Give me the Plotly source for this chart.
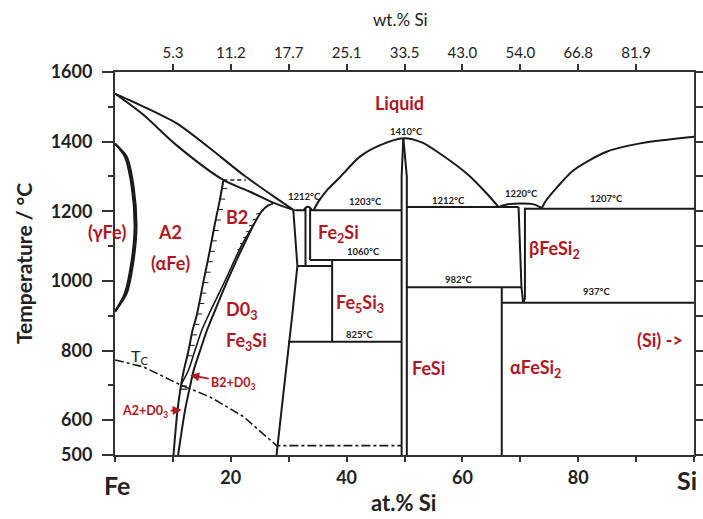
import numpy as np
import plotly.graph_objects as go

# ---------------- axis data ----------------
at_ticks = [0, 10, 20, 30, 40, 50, 60, 70, 80, 90, 100]
at_labels = ["", "", "20", "", "40", "", "60", "", "80", "", ""]
wt_ticks = [10, 20, 30, 40, 50, 60, 70, 80, 90]
wt_labels = ["5.3", "11.2", "17.7", "25.1", "33.5", "43.0", "54.0", "66.8", "81.9"]
T_major = [500, 600, 800, 1000, 1200, 1400, 1600]
T_minor = [700, 900, 1100, 1300, 1500]
T_all = list(range(500, 1700, 100))

# ---------------- phase boundaries (at.% Si, °C) ----------------
liq_fe_x = [0, 5, 10.6, 16.4, 22.2, 27.9, 30.8]
liq_fe_T = [1538, 1500, 1453, 1381, 1304, 1237, 1204]
sol_fe_x = [0, 4.9, 10.6, 18.7, 23.3, 27.3, 30.8]
sol_fe_T = [1538, 1477, 1390, 1290, 1256, 1225, 1204]
b2_dash_x = [18.7, 22.6]
b2_dash_T = [1290, 1290]

gam_in_x = [0, 1.7, 2.9, 3.4, 2.9, 1.7, 0]
gam_in_T = [1394, 1357, 1270, 1156, 1060, 964, 912]
gam_out_x = [0, 2.0, 3.2, 3.7, 3.2, 2.0, 0]
gam_out_T = [1394, 1357, 1270, 1156, 1060, 964, 912]

a2_x = [18.7, 18.1, 17.2, 16.4, 15.3, 14.1, 13.4, 12.7, 11.9, 11.4, 10.8, 10.1]
a2_T = [1287, 1232, 1160, 1089, 1000, 900, 859, 800, 744, 700, 629, 500]
d03_x = [27.3, 26.4, 25.3, 23.9, 22.5, 21.4, 19.4, 16.9, 15.9, 14.7, 13.6, 13.0, 12.1, 10.9]
d03_T = [1222, 1216, 1199, 1160, 1112, 1074, 1000, 900, 859, 800, 744, 700, 629, 500]
b2d_x = [23.9, 21.8, 19.0, 16.1, 15.0, 13.8, 12.7, 11.5]
b2d_T = [1160, 1100, 1000, 900, 859, 800, 744, 705]
hatch_a2_T = [1265, 1235, 1205, 1175, 1145, 1115, 1085, 1055, 1025, 995, 965, 935, 905, 875, 845, 815, 785]
hatch_d03_T = [1195, 1178, 1161, 1144, 1127, 1110, 1093]

d03r_x = [30.8, 31.5, 30.6, 29.7, 28.9, 27.9]
d03r_T = [1203, 1043, 900, 773, 650, 500]
eut1200_x = [30.8, 32.9]
eut1200_T = [1203, 1203]
fe2si_l_x = [32.9, 32.9]
fe2si_l_T = [1208, 1043]
fe2si_r_x = [33.7, 33.7]
fe2si_r_T = [1208, 1060]
arch1212_x = [32.6, 33.0, 33.3, 33.6, 34.0]
arch1212_T = [1204, 1211, 1213, 1211, 1204]
iso1043_x = [31.5, 37.5]
iso1043_T = [1043, 1043]
iso1060_x = [33.7, 49.5]
iso1060_T = [1060, 1060]
fe5si3_x = [37.5, 37.5]
fe5si3_T = [1060, 825]
iso825_x = [29.9, 49.5]
iso825_T = [825, 825]
iso1203_x = [33.7, 49.5]
iso1203_T = [1203, 1203]

fesi_l_x = [49.8, 49.5, 49.5]
fesi_l_T = [1410, 1300, 500]
fesi_r_x = [49.8, 50.4, 50.4]
fesi_r_T = [1410, 1300, 500]
dome_x = [34.3, 35.1, 36.7, 38.8, 42.3, 45.8, 49.8, 53.0, 56.1, 60.7, 64.2, 66.2]
dome_T = [1203, 1227, 1262, 1297, 1357, 1390, 1410, 1398, 1366, 1309, 1251, 1213]
iso1212_x = [50.4, 69.7]
iso1212_T = [1212, 1212]
lens1220_x = [66.2, 67.5, 70.2, 72.5, 73.7]
lens1220_T = [1212, 1219, 1222, 1219, 1209]
bfesi2_l_x = [69.7, 70.2, 70.5]
bfesi2_l_T = [1212, 982, 937]
bfesi2_r_x = [70.8, 70.8, 70.5]
bfesi2_r_T = [1210, 950, 937]
iso1207_x = [70.8, 100]
iso1207_T = [1207, 1207]
iso982_x = [50.4, 70.2]
iso982_T = [982, 982]
afesi2_x = [66.8, 66.8]
afesi2_T = [982, 500]
iso937_x = [66.8, 100]
iso937_T = [937, 937]
liq_si_x = [73.7, 74.5, 76.3, 79.2, 84.9, 90.7, 100]
liq_si_T = [1209, 1232, 1268, 1318, 1371, 1395, 1414]

tc_x = [0, 4.9, 11.5, 16.4, 22.2, 27.9, 49.5]
tc_T = [773, 753, 700, 667, 610, 527, 527]
tcmark1_x = [11.3, 12.4]
tcmark1_T = [698, 698]
tcmark2_x = [11.4, 12.5]
tcmark2_T = [689, 689]

# ---------------- labels ----------------
red_labels = [
    ("A2", 9.5, 1140, 18), ("(αFe)", 9.5, 1051, 18),
    ("B2", 21.0, 1184, 18), ("Fe<sub>2</sub>Si", 38.6, 1136, 18),
    ("Fe<sub>5</sub>Si<sub>3</sub>", 42.3, 935, 18), ("Liquid", 49.1, 1510, 18),
    ("βFeSi<sub>2</sub>", 75.9, 1089, 18), ("(Si) ->", 94.2, 830, 18),
    ("FeSi", 54.1, 749, 18), ("αFeSi<sub>2</sub>", 72.6, 749, 18),
    ("D0<sub>3</sub>", 21.8, 916, 18), ("Fe<sub>3</sub>Si", 22.7, 825, 18),
]
gamma_label = ("(γFe)", -1.3, 1140)
temp_labels = [
    ("1212°C", 32.8, 1242), ("1203°C", 43.2, 1227), ("1060°C", 42.9, 1084),
    ("825°C", 42.3, 847), ("1410°C", 50.4, 1428), ("1212°C", 57.6, 1232),
    ("1220°C", 70.2, 1251), ("1207°C", 84.9, 1237), ("982°C", 59.3, 1005),
    ("937°C", 83.2, 969),
]
arrow_labels = [
    ("B2+D0<sub>3</sub>", 20.5, 706, 13.0, 729),
    ("A2+D0<sub>3</sub>", 5.2, 624, 11.5, 629),
]

FONT = "Lato"
RED = "#b2161f"
LC = "#1a1a1a"
XMIN, XMAX, TMIN, TMAX = 0, 100, 500, 1600

fig = go.Figure()


def add_line(x, y, width=2.0, dash=None, shape="linear"):
    fig.add_trace(go.Scatter(x=x, y=y, mode="lines", hoverinfo="skip", showlegend=False,
                             line=dict(color=LC, width=width, dash=dash, shape=shape,
                                       smoothing=0.8)))


def xpaper(x):
    return (x - XMIN) / (XMAX - XMIN)


def ypaper(t):
    return (t - TMIN) / (TMAX - TMIN)


add_line(liq_fe_x, liq_fe_T, shape="spline")
add_line(sol_fe_x, sol_fe_T, shape="spline")
add_line(b2_dash_x, b2_dash_T, width=1.6, dash="4px,3px")
add_line(gam_in_x, gam_in_T, width=2.2, shape="spline")
add_line(gam_out_x, gam_out_T, width=2.2, shape="spline")
add_line(a2_x, a2_T, shape="spline")
add_line(d03_x, d03_T, shape="spline")
add_line(b2d_x, b2d_T, width=1.6, shape="spline")

# hatch marks (second-order transitions)
a2_rev_T = a2_T[::-1]
a2_rev_x = a2_x[::-1]
for t in hatch_a2_T:
    x0 = float(np.interp(t, a2_rev_T, a2_rev_x))
    add_line([x0, x0 + 0.9], [t, t], width=1.0)
d_rev_T = d03_T[::-1]
d_rev_x = d03_x[::-1]
for t in hatch_d03_T:
    x0 = float(np.interp(t, d_rev_T, d_rev_x))
    add_line([x0 - 0.8, x0], [t - 3, t], width=1.0)

add_line(d03r_x, d03r_T)
add_line(eut1200_x, eut1200_T)
add_line(fe2si_l_x, fe2si_l_T)
add_line(fe2si_r_x, fe2si_r_T)
add_line(arch1212_x, arch1212_T, shape="spline")
add_line(iso1043_x, iso1043_T)
add_line(iso1060_x, iso1060_T)
add_line(fe5si3_x, fe5si3_T)
add_line(iso825_x, iso825_T)
add_line(iso1203_x, iso1203_T)
add_line(fesi_l_x, fesi_l_T)
add_line(fesi_r_x, fesi_r_T)
add_line(dome_x, dome_T, shape="spline")
add_line(iso1212_x, iso1212_T)
add_line(lens1220_x, lens1220_T, shape="spline")
add_line(bfesi2_l_x, bfesi2_l_T)
add_line(bfesi2_r_x, bfesi2_r_T)
add_line(iso1207_x, iso1207_T)
add_line(iso982_x, iso982_T)
add_line(afesi2_x, afesi2_T)
add_line(iso937_x, iso937_T)
add_line(liq_si_x, liq_si_T, shape="spline")
add_line(tc_x, tc_T, width=1.6, dash="dashdot")
add_line(tcmark1_x, tcmark1_T, width=1.2)
add_line(tcmark2_x, tcmark2_T, width=1.2)

# dummy traces for top and right axes
fig.add_trace(go.Scatter(x=[50], y=[1000], xaxis="x2", yaxis="y", mode="none",
                         showlegend=False, hoverinfo="skip"))
fig.add_trace(go.Scatter(x=[50], y=[1000], xaxis="x", yaxis="y2", mode="none",
                         showlegend=False, hoverinfo="skip"))

ann = []
for txt, x, y, s in red_labels:
    ann.append(dict(x=x, y=y, xref="x", yref="y", text="<b>%s</b>" % txt, showarrow=False,
                    xanchor="center", yanchor="middle",
                    font=dict(family=FONT, size=s, color=RED)))
ann.append(dict(x=xpaper(gamma_label[1]), y=ypaper(gamma_label[2]), xref="paper", yref="paper",
                text="<b>%s</b>" % gamma_label[0], showarrow=False,
                xanchor="center", yanchor="middle",
                font=dict(family=FONT, size=18, color=RED)))
for txt, x, y in temp_labels:
    ann.append(dict(x=x, y=y, xref="x", yref="y", text="<b>%s</b>" % txt, showarrow=False,
                    xanchor="center", yanchor="middle",
                    font=dict(family=FONT, size=9.5, color="#222")))
for txt, ax, ay, x, y in arrow_labels:
    ann.append(dict(x=x, y=y, ax=ax, ay=ay, xref="x", yref="y", axref="x", ayref="y",
                    text="<b>%s</b>" % txt, showarrow=True, arrowhead=2, arrowsize=1,
                    arrowwidth=1.8, arrowcolor=RED, standoff=0, startstandoff=1,
                    font=dict(family=FONT, size=12.5, color=RED)))
ann.append(dict(x=4.3, y=782, xref="x", yref="y", text="T<sub>C</sub>", showarrow=False,
                xanchor="center", yanchor="middle",
                font=dict(family=FONT, size=16, color="#222")))
ann.append(dict(x=xpaper(0.3), y=-0.078, xref="paper", yref="paper", text="<b>Fe</b>",
                showarrow=False, xanchor="center", yanchor="middle",
                font=dict(family=FONT, size=25, color="#222")))
ann.append(dict(x=xpaper(98.8), y=-0.065, xref="paper", yref="paper", text="<b>Si</b>",
                showarrow=False, xanchor="center", yanchor="middle",
                font=dict(family=FONT, size=25, color="#222")))
ann.append(dict(x=xpaper(49.8), y=-0.123, xref="paper", yref="paper", text="<b>at.% Si</b>",
                showarrow=False, xanchor="center", yanchor="middle",
                font=dict(family=FONT, size=22, color="#222")))
ann.append(dict(x=xpaper(49.3), y=1.138, xref="paper", yref="paper", text="wt.% Si",
                showarrow=False, xanchor="center", yanchor="middle",
                font=dict(family=FONT, size=17, color="#222")))
ann.append(dict(x=-0.158, y=0.5, xref="paper", yref="paper", text="<b>Temperature / °C</b>",
                showarrow=False, textangle=-90, xanchor="center", yanchor="middle",
                font=dict(family=FONT, size=21, color="#222")))

fig.update_layout(
    width=703, height=519,
    margin=dict(l=115, r=9, t=72, b=64, autoexpand=False),
    paper_bgcolor="white", plot_bgcolor="white",
    font=dict(family=FONT, color="#222"),
    xaxis=dict(range=[XMIN, XMAX], tickmode="array", tickvals=at_ticks, ticktext=at_labels,
               ticks="outside", ticklen=5, tickwidth=2, tickcolor="#333",
               showline=True, linewidth=2, linecolor="#333", showgrid=False, zeroline=False,
               tickfont=dict(family=FONT, size=18, color="#222", weight="bold")),
    xaxis2=dict(range=[XMIN, XMAX], overlaying="x", side="top", anchor="y", tickmode="array",
                tickvals=wt_ticks, ticktext=wt_labels, ticks="outside", ticklen=6, tickwidth=2,
                tickcolor="#333", showline=True, linewidth=2, linecolor="#333",
                showgrid=False, zeroline=False,
                tickfont=dict(family=FONT, size=15, color="#222")),
    yaxis=dict(range=[TMIN, TMAX], tickmode="array", tickvals=T_major,
               ticktext=[str(t) for t in T_major], ticks="outside", ticklen=11, tickwidth=2,
               tickcolor="#333", showline=True, linewidth=2, linecolor="#333",
               showgrid=False, zeroline=False, ticklabelstandoff=6,
               minor=dict(tickvals=T_minor, ticks="outside", ticklen=5, tickwidth=2,
                          tickcolor="#333"),
               tickfont=dict(family=FONT, size=18, color="#222", weight="bold")),
    yaxis2=dict(range=[TMIN, TMAX], overlaying="y", side="right", anchor="x", tickmode="array",
                tickvals=T_all, ticktext=["" for _ in T_all], ticks="outside", ticklen=9,
                tickwidth=2, tickcolor="#333", showline=True, linewidth=2, linecolor="#333",
                showgrid=False, zeroline=False),
    annotations=ann,
)

fig.write_html("out.html")
